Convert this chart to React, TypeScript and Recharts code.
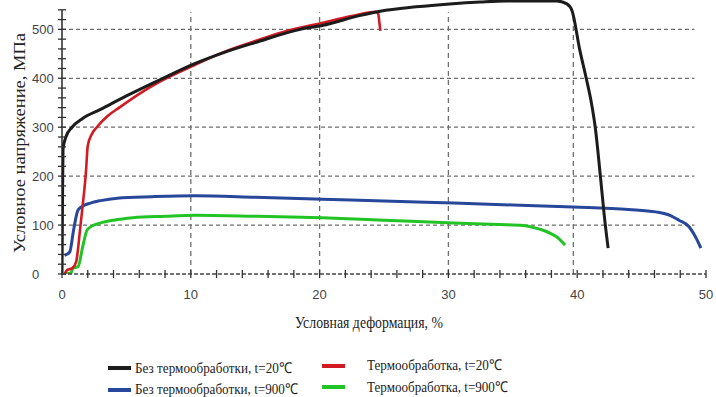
import React from 'react';
import { LineChart, Line, XAxis, YAxis, ReferenceLine } from 'recharts';

// ---- data ----
const xTicks = [0, 2, 4, 6, 8, 10, 12, 14, 16, 18, 20, 22, 24, 26, 28, 30, 32, 34, 36, 38, 40, 42, 44, 46, 48, 50];
const xLabelTicks = [0, 10, 20, 30, 40, 50];
const yTicks = [0, 20, 40, 60, 80, 100, 120, 140, 160, 180, 200, 220, 240, 260, 280, 300, 320, 340, 360, 380, 400, 420, 440, 460, 480, 500, 520, 540];
const yLabelTicks = [0, 100, 200, 300, 400, 500];
const gridXValues = [10, 20, 30, 39.7];
const gridYValues = [100, 200, 300, 400, 500];

const seriesNames = [
  'Без термообработки, t=20℃',
  'Термообработка, t=20℃',
  'Без термообработки, t=900℃',
  'Термообработка, t=900℃',
];

// Без термообработки, t=20℃
const noTreat20 = [
  { x: 0.0, y: 0 }, { x: 0.04, y: 150 }, { x: 0.08, y: 255 }, { x: 0.3, y: 280 },
  { x: 0.78, y: 300 }, { x: 1.6, y: 318 }, { x: 2.95, y: 336 }, { x: 5, y: 364 },
  { x: 7.6, y: 397 }, { x: 10.3, y: 430 }, { x: 12.5, y: 452 }, { x: 15, y: 473 },
  { x: 18.5, y: 500 }, { x: 20.2, y: 508 }, { x: 23.1, y: 528 }, { x: 24.7, y: 537 },
  { x: 27.5, y: 546 }, { x: 30.1, y: 552 }, { x: 32.5, y: 556 }, { x: 34.5, y: 558 },
  { x: 38.4, y: 558 }, { x: 39.2, y: 552 }, { x: 39.6, y: 538 }, { x: 40.2, y: 458 },
  { x: 40.7, y: 400 }, { x: 41.1, y: 350 }, { x: 41.4, y: 300 }, { x: 41.8, y: 200 },
  { x: 42.1, y: 120 }, { x: 42.4, y: 53 },
];

// Термообработка, t=20℃
const treat20 = [
  { x: 0.2, y: 0 }, { x: 0.4, y: 8 }, { x: 0.8, y: 12 }, { x: 1.1, y: 25 },
  { x: 1.4, y: 90 }, { x: 1.65, y: 151 }, { x: 1.85, y: 205 }, { x: 2.0, y: 262 },
  { x: 2.3, y: 285 }, { x: 2.7, y: 300 }, { x: 3.5, y: 322 }, { x: 4.5, y: 341 },
  { x: 6, y: 368 }, { x: 7.6, y: 393 }, { x: 10.3, y: 427 }, { x: 12.5, y: 453 },
  { x: 15, y: 476 }, { x: 17.5, y: 497 }, { x: 20, y: 512 }, { x: 22.5, y: 527 },
  { x: 24.35, y: 536 }, { x: 24.55, y: 532 }, { x: 24.65, y: 512 }, { x: 24.72, y: 497 },
];

// Без термообработки, t=900℃
const noTreat900 = [
  { x: 0.2, y: 38 }, { x: 0.6, y: 45 }, { x: 0.9, y: 90 }, { x: 1.25, y: 131 },
  { x: 1.7, y: 140 }, { x: 2.2, y: 145 }, { x: 3, y: 150 }, { x: 4.3, y: 155 },
  { x: 7, y: 158 }, { x: 10.3, y: 160 }, { x: 15, y: 157 }, { x: 20.2, y: 153 },
  { x: 25, y: 149 }, { x: 30.4, y: 145 }, { x: 35, y: 141 }, { x: 39.7, y: 137 },
  { x: 44, y: 132 }, { x: 46.1, y: 127 }, { x: 47.2, y: 120 }, { x: 47.9, y: 110 },
  { x: 48.7, y: 96 }, { x: 49.2, y: 75 }, { x: 49.6, y: 53 },
];

// Термообработка, t=900℃
const treat900 = [
  { x: 0.2, y: 0 }, { x: 0.7, y: 2 }, { x: 0.85, y: 12 }, { x: 1.25, y: 15 },
  { x: 1.6, y: 55 }, { x: 1.95, y: 90 }, { x: 2.4, y: 99 }, { x: 2.95, y: 104 },
  { x: 4, y: 110 }, { x: 5.5, y: 115 }, { x: 8, y: 118 }, { x: 10.3, y: 120 },
  { x: 15, y: 118 }, { x: 20.2, y: 115 }, { x: 25, y: 110 }, { x: 30.4, y: 104 },
  { x: 34, y: 101 }, { x: 35.8, y: 99 }, { x: 36.6, y: 95 }, { x: 37.3, y: 90 },
  { x: 38, y: 82 }, { x: 38.4, y: 76 }, { x: 39.05, y: 59 },
];

const colors = ['#1c1c1c', '#d21a22', '#27479a', '#22c425'];
const SERIF = "'Liberation Serif', 'Times New Roman', serif";
const SANS = "'Liberation Sans', Arial, sans-serif";

const XTick = (props: any) => {
  const { x, y, payload } = props;
  const show = xLabelTicks.includes(payload.value);
  return (
    <g>
      <line x1={x} x2={x} y1={y - 4} y2={y + 4} stroke="#333" strokeWidth={1.3} />
      {show && (
        <text x={x} y={y + 25} textAnchor="middle" fontFamily={SANS} fontSize={13} fill="#444">
          {payload.value}
        </text>
      )}
    </g>
  );
};

const YTick = (props: any) => {
  const { x, y, payload } = props;
  const show = yLabelTicks.includes(payload.value);
  return (
    <g>
      <line x1={x - 4} x2={x + 4} y1={y} y2={y} stroke="#333" strokeWidth={1.3} />
      {show && (
        <text x={x - 30} y={y + 5} textAnchor="start" fontFamily={SANS} fontSize={13} fill="#444">
          {payload.value}
        </text>
      )}
    </g>
  );
};

const YTitle = () => (
  <text
    x={25}
    y={143}
    transform="rotate(-90 25 143)"
    textAnchor="middle"
    fontFamily={SERIF}
    fontSize={17}
    fill="#222"
    textLength={220}
    lengthAdjust="spacingAndGlyphs"
  >
    Условное напряжение, МПа
  </text>
);

const XTitle = () => (
  <text
    x={369}
    y={328}
    textAnchor="middle"
    fontFamily={SERIF}
    fontSize={16}
    fill="#222"
    textLength={148}
    lengthAdjust="spacingAndGlyphs"
  >
    Условная деформация, %
  </text>
);

const legendItems = [
  { name: seriesNames[0], color: colors[0], lx: 108, ly: 368, tx: 135, ty: 368, tw: 157 },
  { name: seriesNames[2], color: colors[2], lx: 108, ly: 390, tx: 135, ty: 389, tw: 163 },
  { name: seriesNames[1], color: colors[1], lx: 322, ly: 366, tx: 367, ty: 365, tw: 135 },
  { name: seriesNames[3], color: colors[3], lx: 322, ly: 387, tx: 367, ty: 387, tw: 141 },
];

export default function App() {
  return (
    <div style={{ position: 'absolute', left: 0, top: 0, width: 716, height: 397, background: '#fff', overflow: 'hidden' }}>
      <LineChart width={716} height={397} data={noTreat20} margin={{ top: 0, right: 10, bottom: 68, left: 0 }}>
        <XAxis
          dataKey="x"
          type="number"
          domain={[0, 50]}
          ticks={xTicks}
          interval={0}
          tickSize={0}
          tickMargin={0}
          tickLine={false}
          tick={<XTick />}
          height={55}
          axisLine={{ stroke: '#444', strokeWidth: 1.5, strokeDasharray: '4 2' }}
          label={<XTitle />}
          allowDataOverflow
        />
        <YAxis
          dataKey="y"
          type="number"
          domain={[0, 560]}
          ticks={yTicks}
          interval={0}
          tickSize={0}
          tickMargin={0}
          tickLine={false}
          tick={<YTick />}
          width={62}
          axisLine={false}
          label={<YTitle />}
          allowDataOverflow
        />
        {gridYValues.map((v) => (
          <ReferenceLine key={'gy' + v} segment={[{ x: 0, y: v }, { x: 49.1, y: v }]} stroke="#6e6e6e" strokeWidth={1.3} strokeDasharray="4 3" />
        ))}
        {gridXValues.map((v) => (
          <ReferenceLine key={'gx' + v} segment={[{ x: v, y: 0 }, { x: v, y: 535 }]} stroke="#6e6e6e" strokeWidth={1.3} strokeDasharray="5 4" />
        ))}
        <ReferenceLine segment={[{ x: 0, y: 0 }, { x: 0, y: 540 }]} stroke="#333" strokeWidth={1.6} />
        <Line data={noTreat900} dataKey="y" type="monotone" stroke={colors[2]} strokeWidth={3} dot={false} isAnimationActive={false} />
        <Line data={treat900} dataKey="y" type="monotone" stroke={colors[3]} strokeWidth={3} dot={false} isAnimationActive={false} />
        <Line data={treat20} dataKey="y" type="monotone" stroke={colors[1]} strokeWidth={2.6} dot={false} isAnimationActive={false} />
        <Line data={noTreat20} dataKey="y" type="monotone" stroke={colors[0]} strokeWidth={3} dot={false} isAnimationActive={false} />
      </LineChart>
      <svg width={716} height={397} style={{ position: 'absolute', left: 0, top: 0, pointerEvents: 'none' }}>
        {legendItems.map((it) => (
          <g key={it.name}>
            <rect x={it.lx} y={it.ly - 2} width={23} height={4} fill={it.color} />
            <text
              x={it.tx}
              y={it.ty + 5}
              fontFamily={SERIF}
              fontSize={15}
              fill="#222"
              textLength={it.tw}
              lengthAdjust="spacingAndGlyphs"
            >
              {it.name}
            </text>
          </g>
        ))}
      </svg>
    </div>
  );
}
